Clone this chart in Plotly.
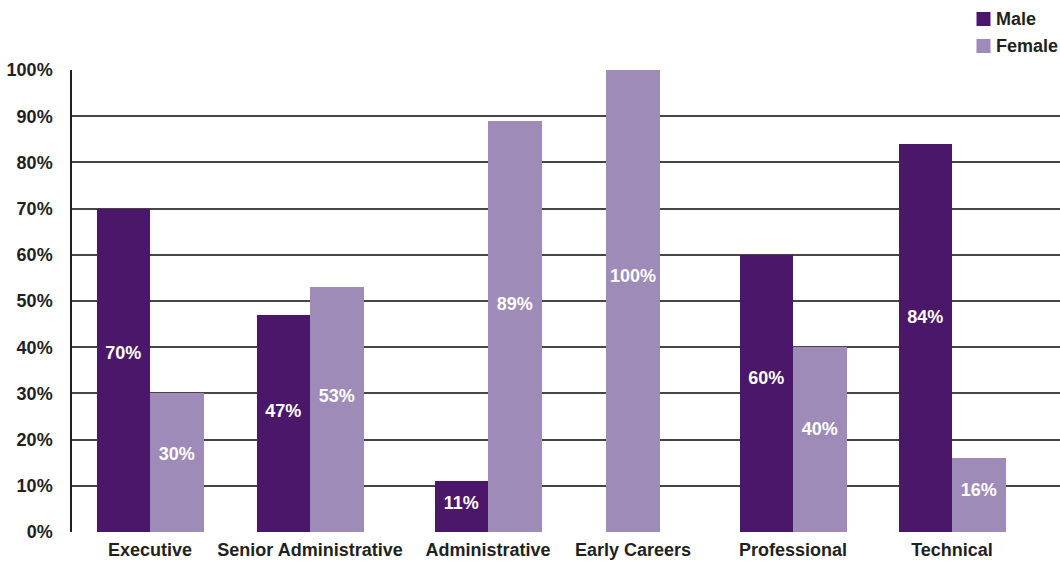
import plotly.graph_objects as go

# Gender split by job family (percent of staff)
categories = ["Executive", "Senior Administrative", "Administrative",
              "Early Careers", "Professional", "Technical"]
male = [70, 47, 11, 0, 60, 84]
female = [30, 53, 89, 100, 40, 16]
y_ticks = [0, 10, 20, 30, 40, 50, 60, 70, 80, 90, 100]

# Horizontal layout of the groups (x axis runs in pixel-like units)
LEFT, RIGHT = 72, 1060
TOP, BOTTOM = 70, 532
centers = [150, 310, 488, 633, 793, 952]
bar_w = 53.5
label_frac = 0.55          # height of value labels as a share of the bar

MALE_C = "#4A176B"
FEMALE_C = "#9E8BB7"
TEXT_C = "#231F20"
FONT = "Liberation Sans, Arial, sans-serif"

male_x, female_x = [], []
for c, m in zip(centers, male):
    if m > 0:
        male_x.append(c - bar_w / 2)
        female_x.append(c + bar_w / 2)
    else:
        male_x.append(None)
        female_x.append(c)

mx = [x for x, v in zip(male_x, male) if v > 0]
mv = [v for v in male if v > 0]

fig = go.Figure()
fig.add_trace(go.Bar(x=mx, y=mv, width=bar_w, name="Male",
                     marker=dict(color=MALE_C, line=dict(width=0)),
                     hoverinfo="skip"))
fig.add_trace(go.Bar(x=female_x, y=female, width=bar_w, name="Female",
                     marker=dict(color=FEMALE_C, line=dict(width=0)),
                     hoverinfo="skip"))

# Value labels inside the bars
lx = mx + female_x
lv = mv + female
fig.add_trace(go.Scatter(
    x=lx, y=[v * label_frac for v in lv], mode="text",
    text=[f"{v}%" for v in lv],
    textfont=dict(family=FONT, size=18, color="white", weight="bold"),
    showlegend=False, hoverinfo="skip"))

# Legend drawn as swatches + labels in the top-right corner
plot_h = BOTTOM - TOP
def py(pixel_y):
    return (BOTTOM - pixel_y) / plot_h

legend_items = [("Male", MALE_C, 19), ("Female", FEMALE_C, 46)]
for name, color, yc in legend_items:
    fig.add_shape(type="rect", xref="x", yref="paper",
                  x0=976.5, x1=990.5, y0=py(yc + 7), y1=py(yc - 7),
                  fillcolor=color, line=dict(width=0))
    fig.add_annotation(x=994, y=py(yc), xref="x", yref="paper",
                       text=name, showarrow=False, xanchor="left",
                       yanchor="middle",
                       font=dict(family=FONT, size=18, color=TEXT_C,
                                 weight="bold"))

fig.update_layout(
    width=1060, height=561,
    margin=dict(l=LEFT, r=1060 - RIGHT, t=TOP, b=561 - BOTTOM),
    paper_bgcolor="white", plot_bgcolor="white",
    bargap=0,
    font=dict(family=FONT, size=18, color=TEXT_C, weight="bold"),
    showlegend=False,
    xaxis=dict(range=[LEFT, RIGHT], tickmode="array", tickvals=centers,
               ticktext=categories, showgrid=False, zeroline=False,
               showline=False, ticks="", ticklabelstandoff=5,
               tickfont=dict(family=FONT, size=18, color=TEXT_C, weight="bold")),
    yaxis=dict(range=[0, 100], tickmode="array", tickvals=y_ticks,
               ticktext=[f"{t}%" for t in y_ticks],
               showgrid=True, gridcolor="#454545", gridwidth=1.5,
               zeroline=False, showline=True, linecolor=TEXT_C,
               linewidth=1.5, ticks="", ticklabelstandoff=14,
               tickfont=dict(family=FONT, size=18, color=TEXT_C, weight="bold")),
)

fig.write_html("out.html")
